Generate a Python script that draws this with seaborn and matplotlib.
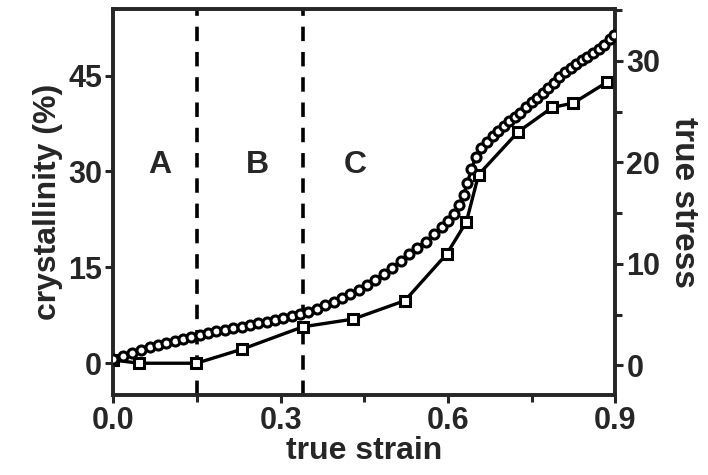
import matplotlib
matplotlib.use("Agg")
import matplotlib.pyplot as plt
import seaborn as sns
import pandas as pd
from matplotlib.ticker import MultipleLocator

# crystallinity (squares, left axis)
cryst_strain = [0.0, 0.047, 0.149, 0.231, 0.34, 0.43, 0.523, 0.598, 0.633, 0.655, 0.726, 0.787, 0.825, 0.886]
cryst_value = [0.5, 0.0, 0.0, 2.2, 5.7, 6.9, 9.8, 17.1, 22.1, 29.5, 36.2, 40.0, 40.7, 44.0]

# true stress (circles, right axis)
stress_strain = [0.0, 0.017, 0.034, 0.05, 0.066, 0.08, 0.095, 0.11, 0.125, 0.14,
                 0.155, 0.17, 0.185, 0.2, 0.215, 0.23, 0.245, 0.26, 0.275, 0.29,
                 0.305, 0.32, 0.335, 0.35, 0.365, 0.38, 0.395, 0.41, 0.425, 0.44,
                 0.455, 0.47, 0.485, 0.5, 0.515, 0.53, 0.545, 0.56, 0.575, 0.59,
                 0.6, 0.61, 0.62, 0.628, 0.635, 0.642, 0.65, 0.66, 0.67, 0.68,
                 0.69, 0.7, 0.71, 0.72, 0.73, 0.74, 0.75, 0.76, 0.77, 0.78,
                 0.79, 0.8, 0.81, 0.82, 0.83, 0.84, 0.85, 0.86, 0.87, 0.88,
                 0.89, 0.897]
stress_value = [0.6, 0.9, 1.2, 1.5, 1.8, 2.0, 2.2, 2.4, 2.6, 2.8,
                3.0, 3.2, 3.4, 3.5, 3.7, 3.8, 4.0, 4.2, 4.3, 4.5,
                4.7, 4.9, 5.1, 5.3, 5.6, 5.9, 6.2, 6.6, 7.0, 7.4,
                7.9, 8.4, 9.0, 9.6, 10.3, 11.0, 11.6, 12.2, 12.9, 13.6,
                14.2, 14.9, 15.8, 16.8, 18.0, 19.3, 20.5, 21.4, 22.0, 22.6,
                23.1, 23.6, 24.1, 24.5, 24.9, 25.4, 25.9, 26.3, 26.8, 27.3,
                27.8, 28.4, 28.9, 29.3, 29.7, 30.1, 30.4, 30.8, 31.2, 31.6,
                32.1, 32.5]

region_bounds = [0.15, 0.34]
region_labels = ["A", "B", "C"]
region_label_x = [0.084, 0.258, 0.434]
region_label_y = 31

x_ticks = [0.0, 0.3, 0.6, 0.9]
left_ticks = [0, 15, 30, 45]
right_ticks = [0, 10, 20, 30]

sns.set_style("ticks")
plt.rcParams['font.family'] = ['Liberation Sans', 'DejaVu Sans']
plt.rcParams['font.weight'] = 'bold'

fig = plt.figure(figsize=(7.08, 4.75), dpi=100)
ax = fig.add_axes([0.16, 0.168, 0.709, 0.813])
ax2 = ax.twinx()

df_c = pd.DataFrame({"strain": cryst_strain, "cryst": cryst_value})
df_s = pd.DataFrame({"strain": stress_strain, "stress": stress_value})

sns.lineplot(data=df_c, x="strain", y="cryst", ax=ax, color="black", lw=2.4,
             marker="s", markersize=7, markerfacecolor="white",
             markeredgecolor="black", markeredgewidth=2.2, zorder=3)
sns.lineplot(data=df_s, x="strain", y="stress", ax=ax2, color="black", lw=2.4,
             marker="o", markersize=6.5, markerfacecolor="white",
             markeredgecolor="black", markeredgewidth=2.2, zorder=3)

for b in region_bounds:
    ax.axvline(b, color="black", lw=2.6, ls=(0, (4, 3)), zorder=2)
for lab, lx in zip(region_labels, region_label_x):
    ax.text(lx, region_label_y, lab, ha="center", va="center", fontsize=23,
            fontweight="bold")

ax.set_xlim(0, 0.9)
ax.set_ylim(-5, 55.4)
ax2.set_ylim(-2.94, 35.1)
ax.set_xticks(x_ticks)
ax.set_xticklabels([f"{t:.1f}" for t in x_ticks])
ax.xaxis.set_minor_locator(MultipleLocator(0.15))
ax.set_yticks(left_ticks)
ax2.set_yticks(right_ticks)
ax2.yaxis.set_minor_locator(MultipleLocator(5))

ax.set_xlabel("true strain", fontsize=23, fontweight="bold", labelpad=0)
ax.set_ylabel("crystallinity (%)", fontsize=23, fontweight="bold", labelpad=4)
ax2.set_ylabel("true stress", fontsize=24, fontweight="bold", rotation=270,
               labelpad=28)

for a in (ax, ax2):
    a.tick_params(which="major", direction="out", length=6, width=2.2,
                  labelsize=22, pad=2)
    a.tick_params(which="minor", direction="out", length=5, width=2.2)
    for s in a.spines.values():
        s.set_linewidth(2.6)
        s.set_visible(True)
ax.tick_params(axis="y", which="both", right=False)

fig.savefig("out.png", dpi=100)
